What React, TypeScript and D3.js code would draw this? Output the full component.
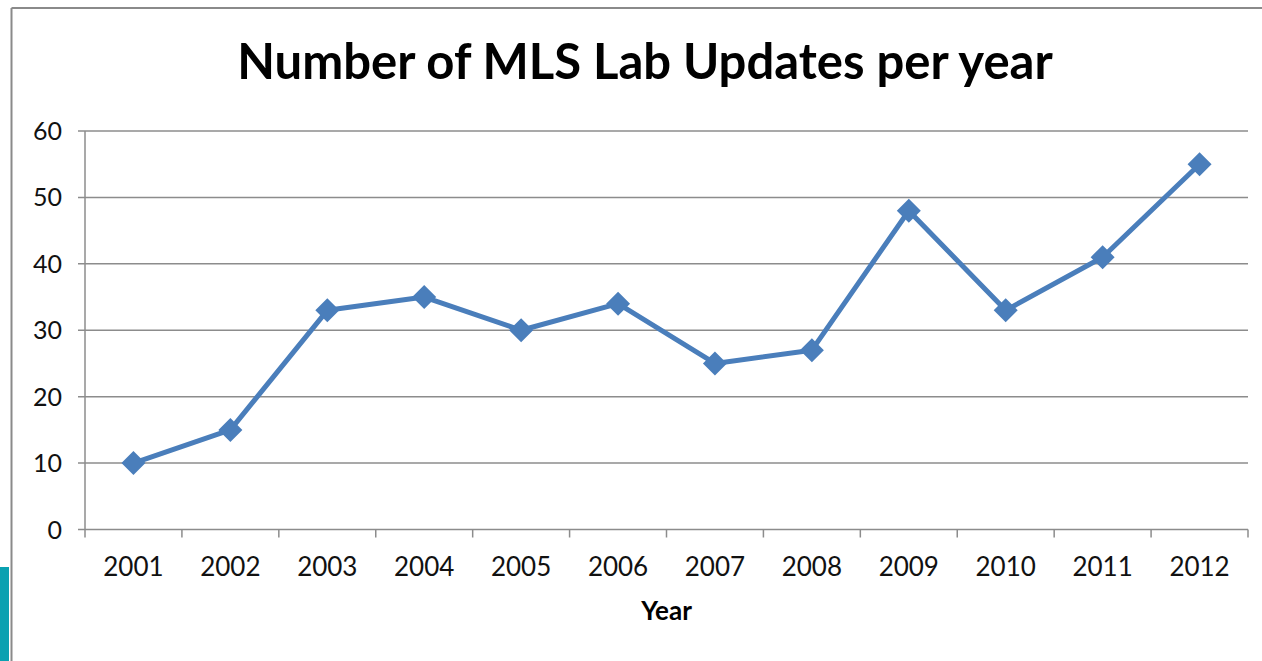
import React from "react";
import * as d3 from "d3";

const years = ["2001","2002","2003","2004","2005","2006","2007","2008","2009","2010","2011","2012"];
const updates = [10, 15, 33, 35, 30, 34, 25, 27, 48, 33, 41, 55];
const yTicks = [0, 10, 20, 30, 40, 50, 60];
const title = "Number of MLS Lab Updates per year";
const xTitle = "Year";

export default function App() {
  const W = 1262, H = 661;
  const left = 85, right = 1248, top = 131, bottom = 529.5;
  const x = d3.scaleBand<string>().domain(years).range([left, right]);
  const y = d3.scaleLinear().domain([0, 60]).range([bottom, top]);
  const line = d3.line<number>()
    .x((_, i) => (x(years[i]) as number) + x.bandwidth() / 2)
    .y((d) => y(d));
  const font = "Lato, 'Open Sans', sans-serif";
  const grid = "#8c8c8c";
  const blue = "#4a7ebb";
  const boundaries = [...years.map((yr) => x(yr) as number), right];
  return (
    <svg width={W} height={H} style={{ position: "absolute", left: 0, top: 0, display: "block" }}>
      <rect x={0} y={0} width={W} height={H} fill="#fff" />
      {/* outer frame */}
      <line x1={11.5} y1={8} x2={11.5} y2={H} stroke="#8a8a8a" strokeWidth={2} />
      <line x1={11.5} y1={8} x2={W} y2={8} stroke="#8a8a8a" strokeWidth={2} />
      <rect x={0} y={567} width={9} height={H - 567} fill="#0aa1b1" />
      <text x={645} y={79} textAnchor="middle" fontFamily={font} fontWeight="bold" fontSize={49} fill="#000">{title}</text>
      {/* gridlines */}
      {yTicks.map((t) => (
        <g key={t}>
          <line x1={left - 7} x2={right} y1={y(t)} y2={y(t)} stroke={grid} strokeWidth={1.5} />
          <text x={62} y={y(t)} dy="0.36em" textAnchor="end" fontFamily={font} fontSize={25} fill="#111">{t}</text>
        </g>
      ))}
      <line x1={left} x2={left} y1={top} y2={bottom} stroke={grid} strokeWidth={1.5} />
      {boundaries.map((b, i) => (
        <line key={i} x1={b} x2={b} y1={bottom} y2={bottom + 8} stroke={grid} strokeWidth={1.5} />
      ))}
      {years.map((yr) => (
        <text key={yr} x={(x(yr) as number) + x.bandwidth() / 2} y={576} textAnchor="middle" fontFamily={font} fontSize={26} fill="#111">{yr}</text>
      ))}
      <text x={(left + right) / 2} y={620} textAnchor="middle" fontFamily={font} fontWeight="bold" fontSize={26} fill="#000">{xTitle}</text>
      <path d={line(updates) || ""} fill="none" stroke={blue} strokeWidth={5} strokeLinejoin="round" />
      {updates.map((v, i) => {
        const cx = (x(years[i]) as number) + x.bandwidth() / 2;
        const cy = y(v);
        const r = 12;
        return (
          <path key={i} d={`M${cx},${cy - r}L${cx + r},${cy}L${cx},${cy + r}L${cx - r},${cy}Z`} fill={blue} />
        );
      })}
    </svg>
  );
}
